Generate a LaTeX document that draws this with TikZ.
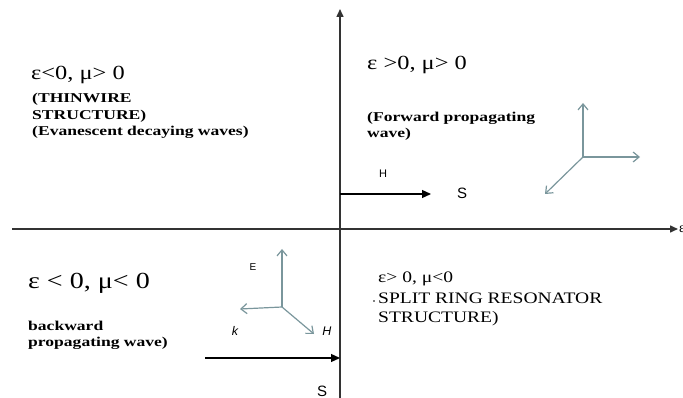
\documentclass[tikz,border=0pt]{standalone}
\usepackage{fontspec}
\setmainfont{Liberation Serif}
\newfontfamily\vecfont{Liberation Sans}
\newfontfamily\signfont[FakeStretch=1.22]{Liberation Serif}
\newfontfamily\widebold[FakeStretch=1.3]{Liberation Serif Bold}
\usetikzlibrary{arrows.meta,positioning}
\definecolor{triadGray}{RGB}{122,150,156}

\begin{document}
\begin{tikzpicture}[
    x=1pt, y=-1pt,
    axisArrow/.style={draw=black!80, line width=1.5pt, -{Triangle[length=8pt,width=7pt]}},
    flowArrow/.style={draw=black, line width=1.2pt, -{Triangle[length=9pt,width=8pt]}},
    triadArrow/.style={draw=triadGray, line width=1.2pt, -{Straight Barb[length=6pt,width=10pt]}},
    signText/.style={anchor=base west, inner sep=0pt, font=\fontsize{20}{22}\selectfont\signfont},
    noteText/.style={anchor=base west, inner sep=0pt, font=\fontsize{13.5}{15}\selectfont\widebold},
    capsText/.style={anchor=base west, inner sep=0pt, font=\fontsize{16}{18}\selectfont\signfont},
    vecText/.style={anchor=base, inner sep=0pt, font=\fontsize{11}{12}\selectfont\vecfont},
    bigVec/.style={vecText, font=\fontsize{15}{16}\selectfont\vecfont},
    slantVec/.style={vecText, font=\fontsize{12.5}{14}\selectfont\vecfont\itshape}
  ]
  \useasboundingbox (0,0) rectangle (683,398);

  % axes
  \coordinate (muFoot) at (340,398);
  \coordinate (muTip) at (340,9);
  \coordinate (epsFoot) at (12,229);
  \coordinate (epsTip) at (678,229);
  \draw[axisArrow] (muFoot) -- (muTip);
  \draw[axisArrow] (epsFoot) -- (epsTip);
  \node[anchor=west, inner sep=1pt, font=\fontsize{14}{16}\selectfont] (epsLabel) at (epsTip) {ε};

  % quadrant texts
  \node[signText] (dngSign) at (31,80) {ε<0, μ> 0};
  \node[noteText] (dngNoteA) at (32,103) {(THINWIRE};
  \node[noteText] (dngNoteB) at (32,120) {STRUCTURE)};
  \node[noteText] (dngNoteC) at (32,136) {(Evanescent decaying waves)};

  \node[signText] (dpsSign) at (367,70) {ε >0, μ> 0};
  \node[noteText] (dpsNoteA) at (367,122) {(Forward propagating};
  \node[noteText] (dpsNoteB) at (367,138) {wave)};

  \node[signText, font=\fontsize{23}{25}\selectfont\signfont] (dnsSign) at (28,289) {ε < 0, μ< 0};
  \node[noteText] (dnsNoteA) at (28,330) {backward};
  \node[noteText] (dnsNoteB) at (28,346) {propagating wave)};

  \node[capsText] (mngSign) at (378,283) {ε> 0, μ<0};
  \node[capsText] (mngNoteA) at (378,303) {SPLIT RING RESONATOR};
  \node[capsText] (mngNoteB) at (378,322) {STRUCTURE)};
  \fill (374,301) circle (0.8pt);

  % forward power flow
  \coordinate (fwdStart) at (340,194);
  \coordinate (fwdEnd) at (431,194);
  \node[vecText] (fwdH) at (383,178) {H};
  \node[bigVec] (fwdS) at (462,199) {S};
  \draw[flowArrow] (fwdStart) -- (fwdEnd);

  % right-handed triad
  \coordinate (rhOrigin) at (583,157);
  \coordinate (rhUp) at (583,103);
  \coordinate (rhRight) at (640,157);
  \coordinate (rhDiag) at (545,194);
  \draw[triadArrow] (rhOrigin) -- (rhUp);
  \draw[triadArrow] (rhOrigin) -- (rhRight);
  \draw[triadArrow] (rhOrigin) -- (rhDiag);

  % left-handed triad
  \coordinate (lhOrigin) at (282,307);
  \coordinate (lhUp) at (282,249);
  \coordinate (lhLeft) at (240,309);
  \coordinate (lhDiag) at (314,334);
  \node[vecText, font=\fontsize{10}{12}\selectfont\vecfont] (lhE) at (253,271) {E};
  \node[slantVec] (lhK) at (235,335) {k};
  \node[slantVec] (lhH) at (327,335) {H};
  \draw[triadArrow] (lhOrigin) -- (lhUp);
  \draw[triadArrow] (lhOrigin) -- (lhLeft);
  \draw[triadArrow] (lhOrigin) -- (lhDiag);

  % backward power flow
  \coordinate (bwdStart) at (205,358);
  \coordinate (bwdEnd) at (340,358);
  \node[bigVec] (bwdS) at (322,396) {S};
  \draw[flowArrow] (bwdStart) -- (bwdEnd);
\end{tikzpicture}
\end{document}
